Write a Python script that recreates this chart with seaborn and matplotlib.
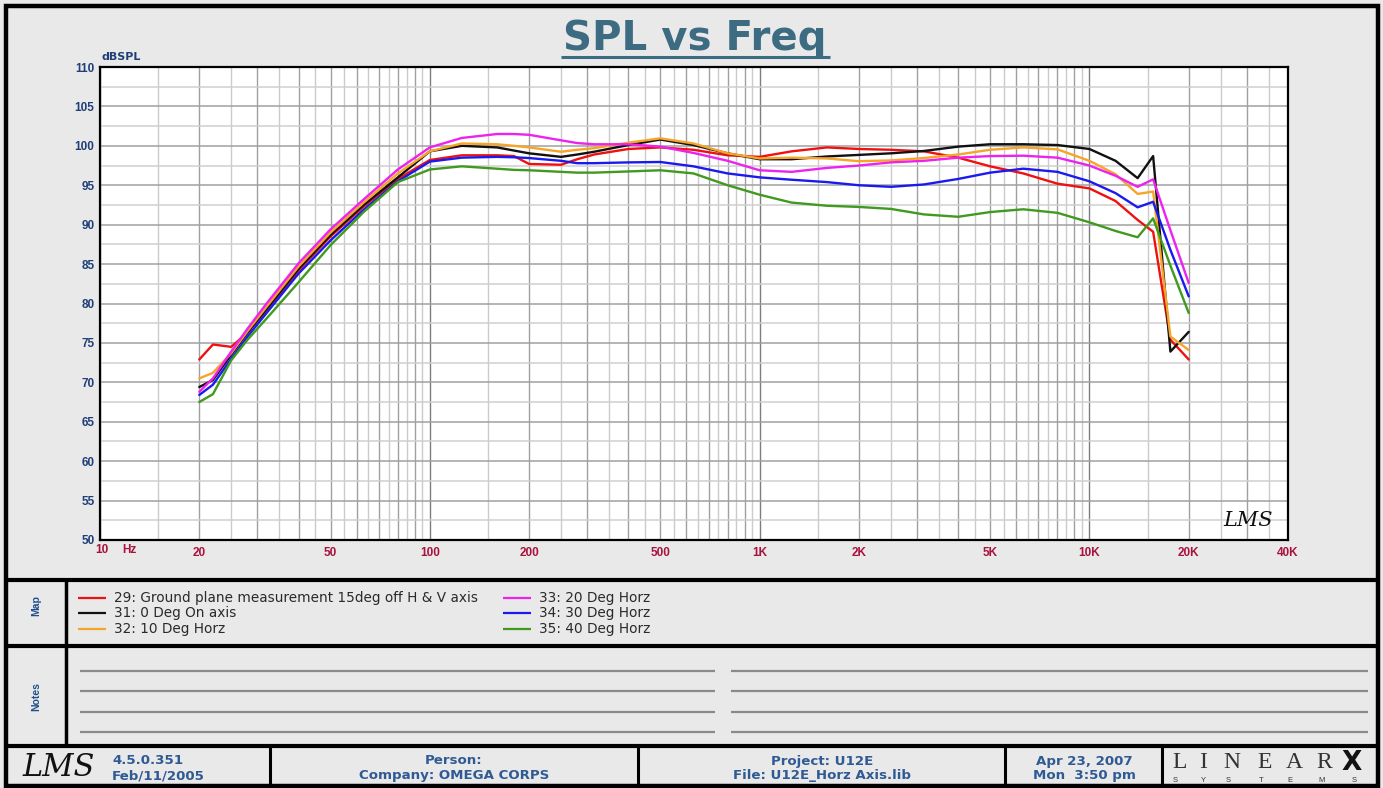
import numpy as np
import pandas as pd
import matplotlib
matplotlib.use("Agg")
import matplotlib.pyplot as plt
import seaborn as sns
from matplotlib.patches import Rectangle
from matplotlib.lines import Line2D

# ---------------- data ----------------
freq_hz = [20, 22, 25, 28, 32, 40, 50, 63, 80, 100, 125, 160, 180, 200, 250, 280, 315,
           400, 500, 630, 800, 1000, 1250, 1600, 2000, 2500, 3150, 4000, 5000, 6300,
           8000, 10000, 12000, 14000, 15600, 17600, 20000]

spl_29 = [72.9, 74.8, 74.5, 76.3, 79.2, 84.2, 88.5, 92.3, 95.8, 98.2, 98.8, 98.8, 98.7,
          97.7, 97.6, 98.3, 98.9, 99.6, 99.8, 99.5, 98.8, 98.6, 99.3, 99.8, 99.6, 99.5,
          99.3, 98.5, 97.4, 96.5, 95.2, 94.6, 93.0, 90.6, 89.1, 75.4, 72.9]
spl_31 = [69.4, 70.3, 73.5, 76.3, 79.3, 84.4, 88.7, 92.5, 96.0, 99.3, 100.0, 99.8, 99.4,
          99.05, 98.6, 98.9, 99.25, 100.1, 100.8, 100.1, 99.05, 98.3, 98.3, 98.65, 98.85,
          99.05, 99.35, 99.9, 100.2, 100.2, 100.1, 99.6, 98.1, 95.9, 98.7, 73.9, 76.4]
spl_32 = [70.5, 71.2, 73.7, 76.5, 79.6, 84.7, 89.0, 92.8, 96.5, 99.3, 100.3, 100.2, 100.0,
          99.8, 99.25, 99.5, 99.7, 100.4, 100.95, 100.3, 99.05, 98.4, 98.5, 98.4, 98.05,
          98.15, 98.45, 98.9, 99.5, 99.8, 99.55, 98.1, 96.4, 93.9, 94.2, 75.8, 74.1]
spl_33 = [68.8, 70.5, 73.9, 76.8, 80.0, 85.1, 89.4, 93.2, 97.0, 99.8, 101.0, 101.5, 101.5,
          101.4, 100.7, 100.35, 100.2, 100.2, 99.9, 99.1, 98.1, 96.9, 96.7, 97.2, 97.5,
          97.9, 98.1, 98.5, 98.7, 98.75, 98.5, 97.5, 96.2, 94.8, 95.75, 89.3, 82.6]
spl_34 = [68.4, 69.7, 73.0, 75.8, 78.8, 83.8, 88.0, 91.9, 95.5, 98.0, 98.5, 98.6, 98.55,
          98.45, 98.1, 97.8, 97.8, 97.9, 97.95, 97.4, 96.5, 96.0, 95.7, 95.4, 95.0, 94.8,
          95.1, 95.8, 96.6, 97.1, 96.7, 95.5, 94.0, 92.2, 92.9, 86.8, 80.9]
spl_35 = [67.5, 68.5, 72.8, 75.4, 78.1, 82.7, 87.4, 91.6, 95.4, 97.0, 97.4, 97.1, 96.95,
          96.9, 96.7, 96.6, 96.6, 96.75, 96.9, 96.5, 95.0, 93.8, 92.8, 92.4, 92.25, 92.0,
          91.3, 91.0, 91.6, 91.95, 91.5, 90.3, 89.2, 88.4, 90.8, 84.8, 78.8]

series_names = ["29: Ground plane measurement 15deg off H & V axis", "31: 0 Deg On axis",
                "32: 10 Deg Horz", "33: 20 Deg Horz", "34: 30 Deg Horz", "35: 40 Deg Horz"]
series_values = [spl_29, spl_31, spl_32, spl_33, spl_34, spl_35]
series_colors = ["#f01010", "#111111", "#f7a428", "#ee22ee", "#1a1aee", "#3f9a1e"]

x_tick_vals = [20, 50, 100, 200, 500, 1000, 2000, 5000, 10000, 20000, 40000]
x_tick_labels = ["20", "50", "100", "200", "500", "1K", "2K", "5K", "10K", "20K", "40K"]
y_tick_vals = list(range(50, 111, 5))

rows = []
for name, vals in zip(series_names, series_values):
    for f, v in zip(freq_hz, vals):
        rows.append({"freq": f, "spl": v, "series": name})
df = pd.DataFrame(rows)

# ---------------- figure ----------------
sns.set_style("white")
plt.rcParams["font.family"] = ["Liberation Sans", "DejaVu Sans"]

W, H = 1383, 788
fig = plt.figure(figsize=(W / 100, H / 100), dpi=100)
fig.patch.set_facecolor("#e9e9e9")


def fx(x):
    return x / W


def fy(y):
    return 1 - y / H


def hline(x0, x1, y, lw, color="black"):
    fig.add_artist(Line2D([fx(x0), fx(x1)], [fy(y), fy(y)], transform=fig.transFigure,
                          color=color, lw=lw, solid_capstyle="butt"))


def vline(x, y0, y1, lw, color="black"):
    fig.add_artist(Line2D([fx(x), fx(x)], [fy(y0), fy(y1)], transform=fig.transFigure,
                          color=color, lw=lw, solid_capstyle="butt"))


# frame
fig.add_artist(Rectangle((fx(6), fy(786)), fx(1378) - fx(6), fy(6) - fy(786), fill=False,
                         lw=3.2, ec="black", transform=fig.transFigure))
hline(6, 1378, 580, 3.0)
hline(6, 1378, 646, 3.0)
hline(6, 1378, 746, 3.0)
vline(66, 580, 746, 2.5)
for xv in [270, 638, 1005, 1162]:
    vline(xv, 746, 786, 2.2)

# ---------------- axes ----------------
ax = fig.add_axes([fx(100), fy(540), fx(1288) - fx(100), fy(67) - fy(540)])
ax.set_facecolor("white")
ax.set_xscale("log")
ax.set_xlim(10, 40000)
ax.set_ylim(50, 110)

# grid
for d in range(1, 5):
    for k in range(1, 10):
        v = k * 10 ** d
        if v < 40000:
            ax.axvline(v, color="#7d7d7d" if k == 1 else "#a0a0a0", lw=1.0, zorder=0)
        h = (k + 0.5) * 10 ** d
        if h < 40000:
            ax.axvline(h, color="#cbcbcb", lw=1.0, zorder=0)
for yv in np.arange(50, 110.1, 2.5):
    ax.axhline(yv, color="#a0a0a0" if yv % 5 == 0 else "#cfcfcf", lw=1.1, zorder=0)

sns.lineplot(data=df, x="freq", y="spl", hue="series", hue_order=series_names,
             palette=dict(zip(series_names, series_colors)), estimator=None,
             legend=False, lw=1.7, ax=ax, zorder=3)

ax.set_xlabel("")
ax.set_ylabel("")
ax.set_xticks(x_tick_vals)
ax.set_xticklabels(x_tick_labels)
ax.xaxis.set_minor_locator(matplotlib.ticker.NullLocator())
ax.set_yticks(y_tick_vals)
ax.set_yticklabels([str(v) for v in y_tick_vals])
ax.tick_params(axis="x", length=0, pad=5, labelsize=8.5, labelcolor="#a8123e")
ax.tick_params(axis="y", length=0, pad=4, labelsize=8.5, labelcolor="#1f3f78")
for lab in ax.get_xticklabels() + ax.get_yticklabels():
    lab.set_fontweight("bold")
for sp in ax.spines.values():
    sp.set_color("black")
    sp.set_linewidth(1.6)
    sp.set_visible(True)

fig.text(fx(95), fy(550), "10", ha="left", va="center", fontsize=8.5,
         fontweight="bold", color="#a8123e")
fig.text(fx(122), fy(550), "Hz", ha="left", va="center", fontsize=8.5,
         fontweight="bold", color="#a8123e")
fig.text(fx(101), fy(57), "dBSPL", ha="left", va="center", fontsize=8,
         fontweight="bold", color="#1f3f78", family="DejaVu Sans")
fig.text(fx(1248), fy(521), "LMS", ha="center", va="center", fontsize=15,
         style="italic", family="DejaVu Serif", color="#111111")

# title
fig.text(fx(695), fy(39), "SPL vs Freq", ha="center", va="center", fontsize=29,
         fontweight="bold", color="#3d6b82", family="DejaVu Sans")
hline(561, 830, 57, 2.2, "#3d6b82")

# ---------------- map (legend) ----------------
fig.text(fx(36), fy(606), "Map", rotation=90, ha="center", va="center", fontsize=7.5,
         fontweight="bold", color="#1f4e8c")
leg_pos = [(78, 598), (78, 613), (78, 629), (503, 598), (503, 613), (503, 629)]
for (lx, ly), name, col in zip(leg_pos, series_names, series_colors):
    hline(lx, lx + 28, ly, 1.6, col)
    fig.text(fx(lx + 36), fy(ly), name, ha="left", va="center", fontsize=9.8,
             color="#2a2a2a", family="DejaVu Sans")

# ---------------- notes ----------------
fig.text(fx(36), fy(697), "Notes", rotation=90, ha="center", va="center", fontsize=7.5,
         fontweight="bold", color="#1f4e8c")
for yv in [671, 691, 712, 732]:
    hline(80, 715, yv, 1.6, "#8a8a8a")
    hline(731, 1368, yv, 1.6, "#8a8a8a")

# ---------------- footer ----------------
fc = "#2f5a94"
ff = "DejaVu Sans"
fs = 9.6
fig.text(fx(22), fy(768), "LMS", ha="left", va="center", fontsize=22, style="italic",
         family="DejaVu Serif", color="#111111")
fig.text(fx(112), fy(761), "4.5.0.351", ha="left", va="center", fontsize=fs,
         fontweight="bold", color=fc, family=ff)
fig.text(fx(112), fy(776), "Feb/11/2005", ha="left", va="center", fontsize=fs,
         fontweight="bold", color=fc, family=ff)
for cx, l1, l2 in [(454, "Person:", "Company: OMEGA CORPS"),
                   (822, "Project: U12E", "File: U12E_Horz Axis.lib"),
                   (1084, "Apr 23, 2007", "Mon  3:50 pm")]:
    fig.text(fx(cx), fy(761), l1, ha="center", va="center", fontsize=fs,
             fontweight="bold", color=fc, family=ff)
    fig.text(fx(cx), fy(776), l2, ha="center", va="center", fontsize=fs,
             fontweight="bold", color=fc, family=ff)

for ch, lx in zip("LINEAR", [1172, 1199, 1223, 1257, 1286, 1316]):
    fig.text(fx(lx), fy(763), ch, ha="left", va="center", fontsize=17,
             family="Liberation Serif", color="#333333")
fig.text(fx(1342), fy(763), "X", ha="left", va="center", fontsize=19,
         fontweight="heavy", family="DejaVu Sans", color="#111111")
for ch, lx in zip("SYSTEMS", [1173, 1201, 1226, 1259, 1287, 1318, 1352]):
    fig.text(fx(lx), fy(781), ch, ha="left", va="center", fontsize=5.5, color="#333333")

fig.savefig("out.png", dpi=100, facecolor=fig.get_facecolor())
